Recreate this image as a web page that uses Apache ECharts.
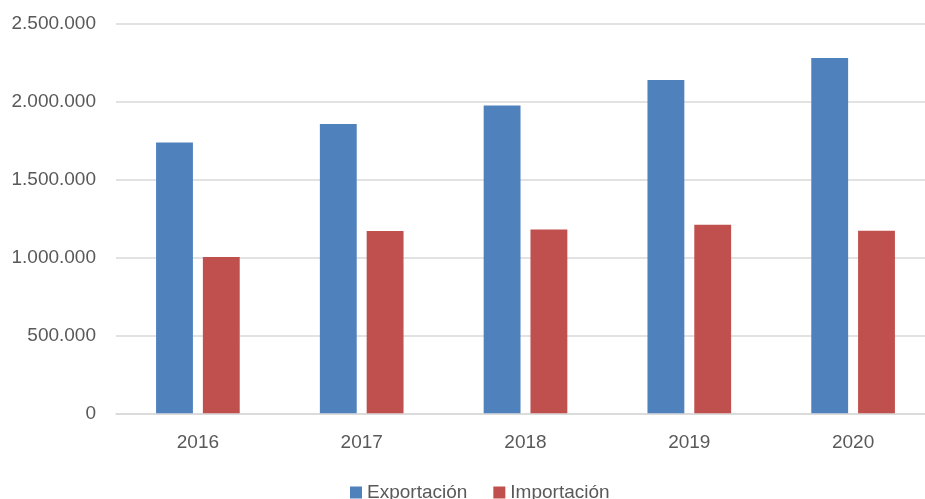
<!DOCTYPE html>
<html>
<head>
<meta charset="utf-8">
<script src="https://cdn.jsdelivr.net/npm/echarts@6/dist/echarts.min.js"></script>
<style>
  html,body{margin:0;padding:0;background:#fff;overflow:hidden}
  #chart{width:935px;height:499px}
</style>
</head>
<body>
<div id="chart"></div>
<script>
var years = ['2016','2017','2018','2019','2020']
var exportacion = [1737000,1855000,1974000,2138000,2278000]
var importacion = [1002000,1169000,1179000,1209000,1171000]

function miles(v){
  return String(v).replace(/\B(?=(\d{3})+(?!\d))/g,'.')
}

var ec = echarts.init(document.getElementById('chart'))
var font = 'Liberation Sans, Arial, sans-serif'
ec.setOption({
  animation:false,
  textStyle:{fontFamily:font},
  grid:{left:116,right:0,top:23.5,bottom:85.7},
  legend:{
    left:350,top:483,padding:0,
    itemWidth:12,itemHeight:12,itemGap:26,
    icon:'rect',
    textStyle:{fontSize:19,color:'#595959',fontFamily:font},
    data:['Exportación','Importación']
  },
  xAxis:{
    type:'category',
    data:years,
    axisTick:{show:false},
    axisLine:{lineStyle:{color:'#D9D9D9',width:1.5}},
    axisLabel:{fontSize:19,color:'#595959',margin:20}
  },
  yAxis:{
    type:'value',
    min:0,max:2500000,interval:500000,
    axisLine:{show:false},
    axisTick:{show:false},
    splitLine:{lineStyle:{color:'#D9D9D9',width:1.5}},
    axisLabel:{fontSize:19,color:'#595959',margin:20,formatter:miles}
  },
  series:[
    {name:'Exportación',type:'bar',data:exportacion,barWidth:'22.5%',barGap:'27%',
     itemStyle:{color:'#4F81BD'}},
    {name:'Importación',type:'bar',data:importacion,barWidth:'22.5%',
     itemStyle:{color:'#C0504D'}}
  ]
})
</script>
</body>
</html>
